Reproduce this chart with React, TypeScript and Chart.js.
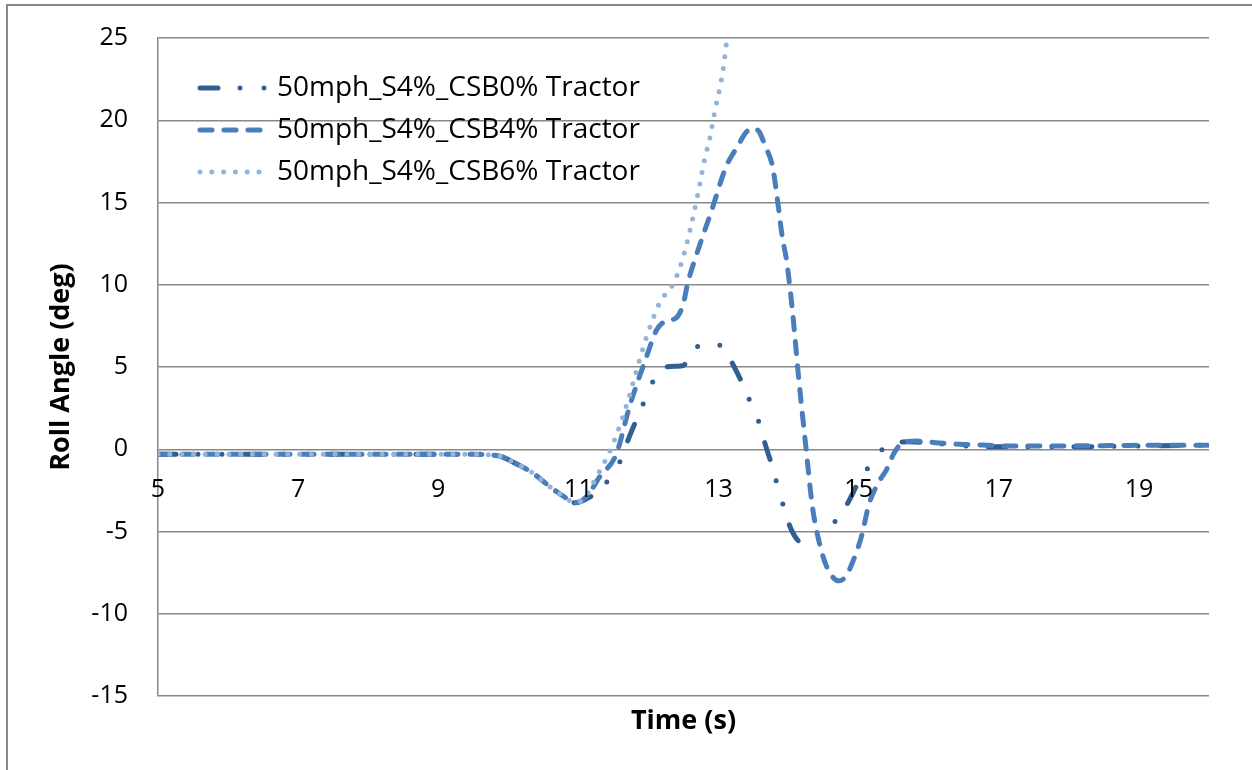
import React, { useEffect, useRef } from "react";
import { Chart, registerables } from "chart.js";

Chart.register(...registerables);

// ---- data ----
const seriesNames = [
  "50mph_S4%_CSB0% Tractor",
  "50mph_S4%_CSB4% Tractor",
  "50mph_S4%_CSB6% Tractor",
];

const timeCSB0 = [5, 6, 7, 8, 9, 9.5, 9.65, 9.9, 10.1, 10.35, 10.6, 10.8, 10.95, 11.02, 11.1, 11.27, 11.49, 11.61, 11.73, 11.87, 11.97, 12.1, 12.25, 12.4, 12.5, 12.6, 12.79, 12.95, 13.06, 13.2, 13.34, 13.47, 13.58, 13.67, 13.77, 13.84, 13.93, 14.04, 14.2, 14.35, 14.48, 14.68, 14.84, 15.01, 15.14, 15.34, 15.5, 15.7, 16.0, 16.5, 17, 18, 19, 20];
const rollCSB0 = [-0.3, -0.3, -0.3, -0.3, -0.3, -0.3, -0.32, -0.45, -0.85, -1.45, -2.3, -2.9, -3.25, -3.2, -3.05, -2.6, -1.5, -0.6, 0.8, 2.2, 3.2, 4.4, 5.0, 5.05, 5.1, 5.7, 6.5, 6.4, 6.2, 5.2, 4.0, 2.7, 1.6, 0.25, -1.1, -2.2, -3.5, -4.9, -5.7, -5.6, -5.3, -4.3, -3.3, -1.9, -1.1, 0, 0.35, 0.45, 0.4, 0.2, 0.15, 0.15, 0.2, 0.25];

const timeCSB4 = [5, 6, 7, 8, 9, 9.5, 9.65, 9.9, 10.1, 10.35, 10.6, 10.8, 10.95, 11.02, 11.15, 11.3, 11.54, 11.73, 11.97, 12.11, 12.25, 12.4, 12.5, 12.56, 12.66, 12.9, 13.11, 13.27, 13.4, 13.5, 13.58, 13.66, 13.77, 13.84, 13.91, 13.97, 14.06, 14.14, 14.25, 14.34, 14.44, 14.55, 14.72, 14.82, 14.91, 15.04, 15.15, 15.3, 15.39, 15.51, 15.63, 15.82, 16.1, 16.44, 16.77, 17.15, 17.53, 18.5, 19.5, 20];
const rollCSB4 = [-0.3, -0.3, -0.3, -0.3, -0.3, -0.3, -0.32, -0.45, -0.85, -1.45, -2.3, -2.9, -3.25, -3.2, -2.7, -1.7, -0.3, 2.6, 5.6, 7.2, 7.8, 8.0, 8.9, 10.1, 11.5, 14.5, 17.2, 18.4, 19.3, 19.5, 19.3, 18.5, 17.2, 15.2, 12.9, 11.5, 8.2, 4.5, 0, -3.5, -5.7, -7.2, -8.0, -7.7, -6.9, -5.3, -3.3, -1.9, -1.3, -0.2, 0.4, 0.5, 0.4, 0.3, 0.26, 0.2, 0.2, 0.22, 0.25, 0.25];

const timeCSB6 = [5, 6, 7, 8, 9, 9.5, 9.65, 9.9, 10.1, 10.35, 10.6, 10.8, 10.95, 11.02, 11.1, 11.23, 11.46, 11.69, 11.83, 11.97, 12.16, 12.37, 12.51, 12.7, 12.8, 12.88, 12.94, 13.01, 13.07, 13.11];
const rollCSB6 = [-0.3, -0.3, -0.3, -0.3, -0.3, -0.3, -0.32, -0.45, -0.85, -1.45, -2.3, -2.9, -3.25, -3.2, -2.9, -1.9, 0, 2.7, 4.8, 6.8, 8.9, 10.2, 11.9, 15.4, 17.6, 19.0, 20.4, 21.8, 23.2, 24.6];

const xTickLabels = [5, 7, 9, 11, 13, 15, 17, 19];
const yTicks = [-15, -10, -5, 0, 5, 10, 15, 20, 25];

const FONT = "'Open Sans', 'Liberation Sans', sans-serif";
const GRID = "#888888";

const colors = ["#335E92", "#4A7EBB", "#95B3D7"];
const dashes = [
  [18, 22, 0, 24, 0, 22],
  [12, 12],
  [0, 11.8],
];

const toPoints = (t: number[], v: number[]) => t.map((x, i) => ({ x, y: v[i] }));

export default function App() {
  const ref = useRef<HTMLCanvasElement | null>(null);

  useEffect(() => {
    if (!ref.current) return;

    const overlay = {
      id: "overlay",
      afterDraw(chart: any) {
        const ctx = chart.ctx;
        const xs = chart.scales.x;
        const ys = chart.scales.y;
        const area = chart.chartArea;
        ctx.save();
        // outer frame
        ctx.strokeStyle = GRID;
        ctx.lineWidth = 2;
        ctx.strokeRect(7, 5, 1400, 900);

        // x tick labels below the zero line
        ctx.fillStyle = "#000";
        ctx.font = `25px ${FONT}`;
        ctx.textAlign = "center";
        ctx.textBaseline = "middle";
        const y0 = ys.getPixelForValue(0);
        xTickLabels.forEach((v) => {
          ctx.fillText(String(v), xs.getPixelForValue(v), y0 + 41);
        });

        // axis titles
        ctx.font = `bold 27px ${FONT}`;
        ctx.fillText("Time (s)", (area.left + area.right) / 2, 721);
        ctx.save();
        ctx.translate(61, (area.top + area.bottom) / 2);
        ctx.rotate(-Math.PI / 2);
        ctx.fillText("Roll Angle (deg)", 0, 0);
        ctx.restore();

        // legend
        ctx.textAlign = "left";
        ctx.font = `28px ${FONT}`;
        seriesNames.forEach((name, i) => {
          const ly = 88 + 42 * i;
          ctx.save();
          ctx.strokeStyle = colors[i];
          ctx.lineWidth = 5;
          ctx.lineCap = "round";
          ctx.setLineDash(dashes[i]);
          ctx.beginPath();
          ctx.moveTo(200, ly);
          ctx.lineTo(266, ly);
          ctx.stroke();
          ctx.restore();
          ctx.fillStyle = "#000";
          ctx.fillText(name, 277, ly);
        });
        ctx.restore();
      },
    };

    const series = [
      toPoints(timeCSB0, rollCSB0),
      toPoints(timeCSB4, rollCSB4),
      toPoints(timeCSB6, rollCSB6),
    ];

    const chart = new Chart(ref.current, {
      type: "line",
      data: {
        datasets: series.map((pts, i) => ({
          label: seriesNames[i],
          data: pts,
          borderColor: colors[i],
          backgroundColor: colors[i],
          borderWidth: 5,
          borderDash: dashes[i],
          borderCapStyle: "round" as const,
          borderJoinStyle: "round" as const,
          pointRadius: 0,
          cubicInterpolationMode: "monotone" as const,
          order: 3 - i,
          fill: false,
        })),
      },
      options: {
        animation: false,
        responsive: false,
        devicePixelRatio: 1,
        layout: { padding: { left: 0, top: 38, right: 43, bottom: 74 } },
        plugins: { legend: { display: false }, tooltip: { enabled: false } },
        scales: {
          x: { type: "linear", min: 5, max: 20, display: false },
          y: {
            type: "linear",
            min: -15,
            max: 25,
            afterBuildTicks: (s: any) => {
              s.ticks = yTicks.map((v) => ({ value: v }));
            },
            afterFit: (s: any) => {
              s.width = 158;
            },
            grid: {
              color: GRID,
              lineWidth: 1.5,
              drawTicks: true,
              tickLength: 24,
              tickColor: "rgba(0,0,0,0)",
            },
            border: { display: true, color: GRID, width: 1.5 },
            ticks: {
              padding: 6,
              color: "#000",
              font: { family: FONT, size: 25 },
            },
          },
        },
      },
      plugins: [overlay],
    });

    return () => chart.destroy();
  }, []);

  return (
    <div
      style={{
        position: "fixed",
        left: 0,
        top: 0,
        width: 1252,
        height: 770,
        overflow: "hidden",
        background: "#fff",
      }}
    >
      <canvas ref={ref} width={1252} height={770} style={{ width: 1252, height: 770, display: "block" }} />
    </div>
  );
}
